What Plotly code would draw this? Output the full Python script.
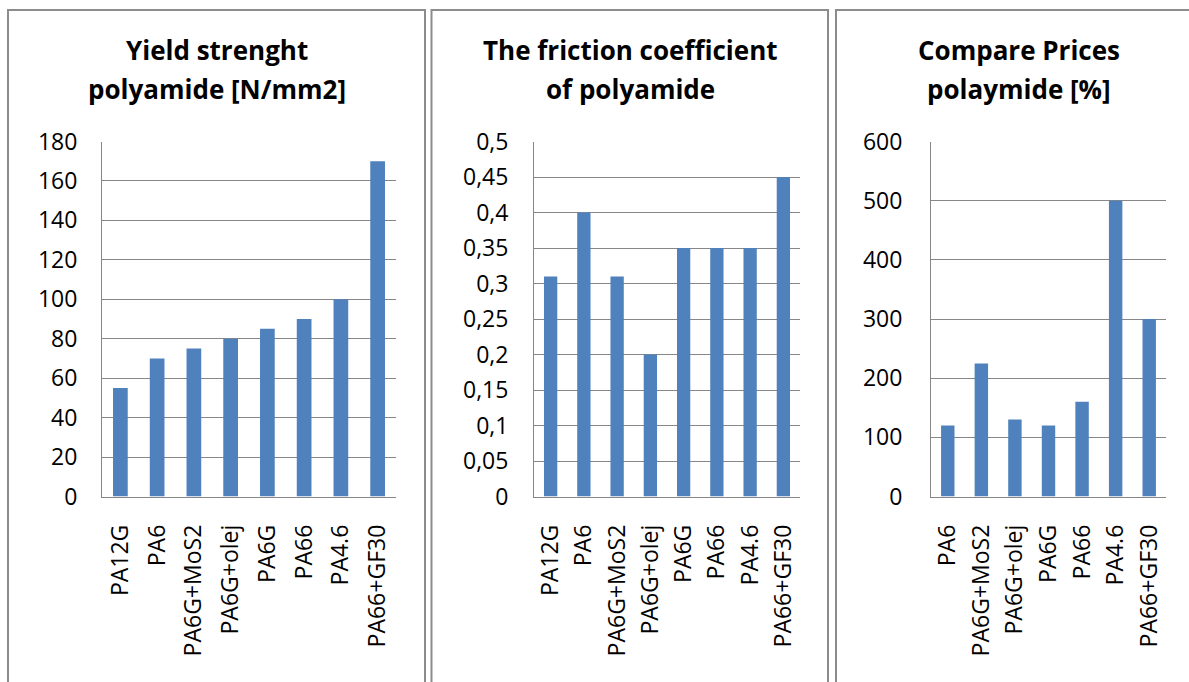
import plotly.graph_objects as go

W, H = 1189, 682

cats1 = ["PA12G", "PA6", "PA6G+MoS2", "PA6G+olej", "PA6G", "PA66", "PA4.6", "PA66+GF30"]
yield_strength = [55, 70, 75, 80, 85, 90, 100, 170]

cats2 = ["PA12G", "PA6", "PA6G+MoS2", "PA6G+olej", "PA6G", "PA66", "PA4.6", "PA66+GF30"]
friction = [0.31, 0.40, 0.31, 0.20, 0.35, 0.35, 0.35, 0.45]

cats3 = ["PA6", "PA6G+MoS2", "PA6G+olej", "PA6G", "PA66", "PA4.6", "PA66+GF30"]
prices = [120, 225, 130, 120, 160, 500, 300]

ticks1 = [0, 20, 40, 60, 80, 100, 120, 140, 160, 180]
ticks2 = [0, 0.05, 0.1, 0.15, 0.2, 0.25, 0.3, 0.35, 0.4, 0.45, 0.5]
ticks2_text = ["0", "0,05", "0,1", "0,15", "0,2", "0,25", "0,3", "0,35", "0,4", "0,45", "0,5"]
ticks3 = [0, 100, 200, 300, 400, 500, 600]

titles = [
    ("Yield strenght", "polyamide [N/mm2]"),
    ("The friction coefficient", "of polyamide"),
    ("Compare Prices", "polaymide [%]"),
]

BAR = "#4f81bd"
GRID = "#878787"
FONT = "Open Sans"

def px(x):
    return x / W

def py(y):
    return 1 - y / H

fig = go.Figure()
fig.add_trace(go.Bar(x=cats1, y=yield_strength, marker=dict(color=BAR, line=dict(width=0)), xaxis="x", yaxis="y"))
fig.add_trace(go.Bar(x=cats2, y=friction, marker=dict(color=BAR, line=dict(width=0)), xaxis="x2", yaxis="y2"))
fig.add_trace(go.Bar(x=cats3, y=prices, marker=dict(color=BAR, line=dict(width=0)), xaxis="x3", yaxis="y3"))

ydom = [py(496.5), py(141.5)]
xdoms = [[px(102), px(396)], [px(534), px(800)], [px(931), px(1166)]]

common_x = dict(showgrid=False, showline=True, linecolor=GRID, linewidth=1, tickangle=-90,
                ticks="", tickfont=dict(family=FONT, size=23, color="#000"), ticklabelstandoff=18,
                fixedrange=True, automargin=False)
common_y = dict(showgrid=True, gridcolor=GRID, gridwidth=1, showline=True, linecolor=GRID, linewidth=1,
                ticks="", tickfont=dict(family=FONT, size=23, color="#000"), zeroline=False,
                fixedrange=True, automargin=False)

layout = dict(
    width=W, height=H, margin=dict(l=0, r=0, t=0, b=0, pad=0, autoexpand=False),
    paper_bgcolor="white", plot_bgcolor="white", showlegend=False, bargap=0.6,
    xaxis=dict(domain=xdoms[0], anchor="y", **common_x),
    xaxis2=dict(domain=xdoms[1], anchor="y2", **common_x),
    xaxis3=dict(domain=xdoms[2], anchor="y3", **common_x),
    yaxis=dict(domain=ydom, anchor="x", range=[0, 180], tickvals=ticks1, ticklabelstandoff=19, **common_y),
    yaxis2=dict(domain=ydom, anchor="x2", range=[0, 0.5], tickvals=ticks2, ticktext=ticks2_text, ticklabelstandoff=20, **common_y),
    yaxis3=dict(domain=ydom, anchor="x3", range=[0, 600], tickvals=ticks3, ticklabelstandoff=23, **common_y),
)
fig.update_layout(**layout)

# panel frames (left, top, right sides; bottom is below the visible area)
boxes = [(8, 425), (431.5, 828), (836, 1202)]
shapes = []
for x0, x1 in boxes:
    path = "M {a},{b} L {a},{c} L {d},{c} L {d},{b}".format(a=px(x0), b=-0.01, c=py(10), d=px(x1))
    shapes.append(dict(type="path", xref="paper", yref="paper", path=path,
                       line=dict(color="#8c8c8c", width=2), layer="above"))
fig.update_layout(shapes=shapes)

annots = []
centers = [216.5, 630, 1019]
for (l1, l2), cx in zip(titles, centers):
    annots.append(dict(xref="paper", yref="paper", x=px(cx), y=py(50), text=l1, showarrow=False,
                       xanchor="center", yanchor="middle",
                       font=dict(family=FONT, size=26, color="#000", weight="bold")))
    annots.append(dict(xref="paper", yref="paper", x=px(cx), y=py(89), text=l2, showarrow=False,
                       xanchor="center", yanchor="middle",
                       font=dict(family=FONT, size=26, color="#000", weight="bold")))
fig.update_layout(annotations=annots)

post = ("document.documentElement.style.margin='0';document.documentElement.style.overflow='hidden';"
        "document.body.style.margin='0';document.body.style.padding='0';document.body.style.overflow='hidden';")
fig.write_html("out.html", post_script=post, config={"displayModeBar": False})
